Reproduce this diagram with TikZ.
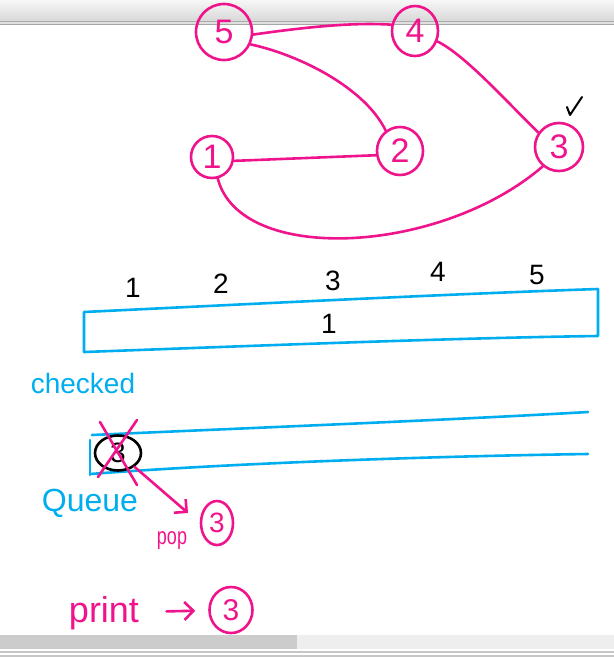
\documentclass[tikz,border=0pt]{standalone}
\usepackage{fontspec}
\setmainfont{Liberation Sans}
\usetikzlibrary{arrows.meta,shapes.geometric}
\definecolor{hotpink}{RGB}{240,20,140}
\definecolor{skyblue}{RGB}{0,174,239}
\newcommand{\fsz}[1]{\fontsize{#1}{#1}\selectfont}
\begin{document}
\begin{tikzpicture}[x = 1pt, y = -1pt, line cap = round, line join = round,
  vertex/.style = {draw = hotpink, text = hotpink, ellipse, line width = 2.6pt, inner sep = 0pt, font = \fsz{34}},
  edge/.style = {draw = hotpink, line width = 2.6pt},
  bluepen/.style = {draw = skyblue, line width = 2.6pt},
  lbl/.style = {font = \fsz{28}},
  barb/.style = {-{Straight Barb[length = 9pt, width = 18pt]}}]
\useasboundingbox (0,0) rectangle (614,657);
% window frame
\shade[top color = gray!6, bottom color = gray!30] (0,0) rectangle (614,20.5);
\fill[gray!65] (0,20.5) rectangle (614,22);
\fill[gray!25] (0,22) rectangle (614,23.5);
\fill[gray!70] (0,23.5) rectangle (614,25);
\fill[gray!13] (0,635) rectangle (614,649);
\fill[gray!40] (0,635) rectangle (297,649);
\fill[gray!45] (0,651) rectangle (614,652.5);
\fill[gray!45] (0,655) rectangle (614,656.5);
% graph
\node[vertex, minimum width = 56pt, minimum height = 56pt] at (224,32) (n5) {5};
\node[vertex, minimum width = 46pt, minimum height = 50pt] at (415,31) (n4) {4};
\node[vertex, minimum width = 46pt, minimum height = 48pt] at (400,151) (n2) {2};
\node[vertex, minimum width = 42pt, minimum height = 42pt] at (212,157) (n1) {1};
\node[vertex, minimum width = 48pt, minimum height = 48pt] at (559,147) (n3) {3};
\draw[edge] (n5.-5) .. controls (300,28) and (350,22) .. (n4.165);
\draw[edge] (n5.-25) .. controls (300,55) and (365,88) .. (n2.125);
\draw[edge] (n1.-10) -- (n2.-170);
\draw[edge] (n4.-25) .. controls (465,55) and (505,100) .. (n3.145);
\draw[edge] (n1.-75) .. controls (240,265) and (440,255) .. (n3.-130);
\draw[line width = 2pt] (567,107) -- (570,115) -- (582,97);
% visited array
\node[lbl] at (133,288) (i1) {1};
\node[lbl] at (221,284) (i2) {2};
\node[lbl] at (333,281) (i3) {3};
\node[lbl] at (438,272) (i4) {4};
\node[lbl] at (537,275) (i5) {5};
\draw[bluepen] (84,312) .. controls (250,304) and (450,294) .. (598,289) -- (598,336) .. controls (450,338) and (250,346) .. (84,352) -- cycle;
\node[lbl] at (329,324) (val) {1};
\node[text = skyblue, font = \fsz{28}] at (83,383) (chk) {checked};
% queue
\draw[bluepen] (92,435) .. controls (250,428) and (450,420) .. (588,412);
\draw[bluepen] (90,474) .. controls (250,462) and (450,456) .. (588,454);
\draw[bluepen] (90,440) -- (90,475);
\node[draw, ellipse, line width = 2.6pt, minimum width = 46pt, minimum height = 35pt, inner sep = 0pt, font = \fsz{28}] at (118,453) (q3) {3};
\draw[edge] (100,422) -- (137,485);
\draw[edge] (137,420) -- (98,477);
\node[text = skyblue, font = \fsz{32}] at (90,503) (que) {Queue};
\coordinate (popend) at (188,513);
\draw[edge, barb] (q3.-40) -- (popend);
\node[text = hotpink, font = \fsz{24}, xscale = 0.75, anchor = base] at (172,544) (pop) {pop};
\node[vertex, minimum width = 32pt, minimum height = 44pt, font = \fsz{28}] at (217,523) (pop3) {3};
% output
\node[text = hotpink, font = \fsz{36}, anchor = base] at (104,622) (prt) {print};
\node[vertex, minimum width = 43pt, minimum height = 46pt, font = \fsz{30}] at (231,610) (p3) {3};
\draw[edge, barb, shorten < = 24pt, shorten > = 13pt] (prt) -- (p3);
\end{tikzpicture}
\end{document}
